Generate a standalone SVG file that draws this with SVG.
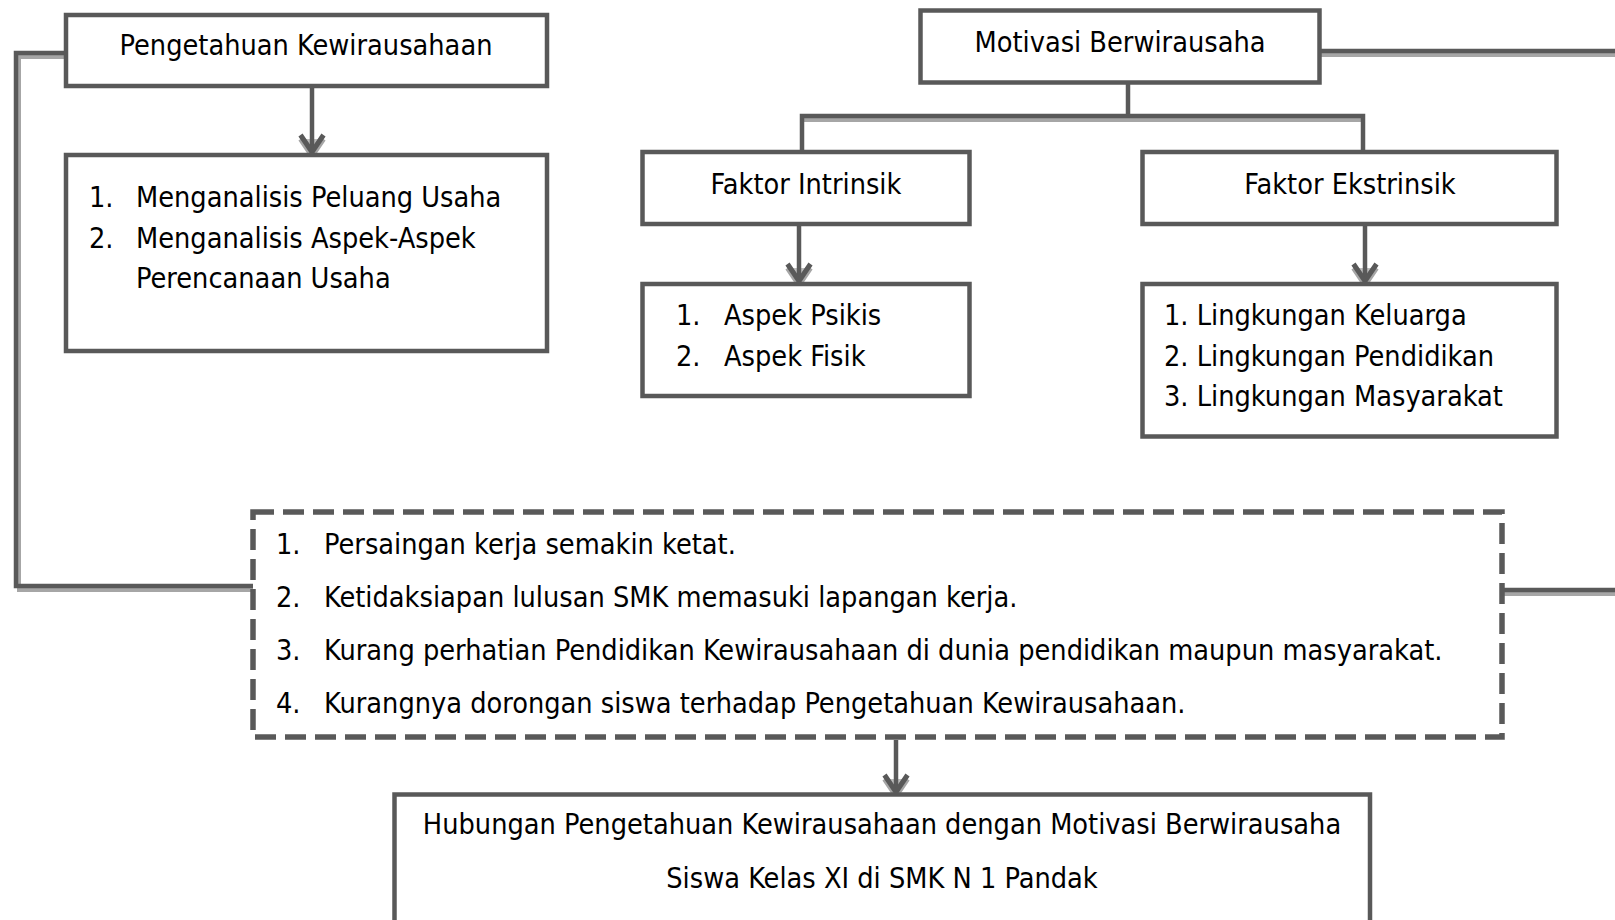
<svg xmlns="http://www.w3.org/2000/svg" width="1615" height="920" viewBox="0 0 1615 920">
<style>
.t{font-family:"DejaVu Sans Condensed","DejaVu Sans",sans-serif;font-stretch:condensed;font-size:28.6px;fill:#000}
.c{text-anchor:middle}
.box{fill:#fff;stroke:#595959;stroke-width:4.5}
.dash{fill:#fff;stroke:#595959;stroke-width:5.5;stroke-dasharray:21 9}
.ln{fill:none;stroke:#595959;stroke-width:4.5}
.sh{fill:none;stroke:#a6a6a6;stroke-width:4}
.ar{fill:none;stroke:#595959;stroke-width:4.5;marker-end:url(#arr)}
.ars{fill:none;stroke:#a6a6a6;stroke-width:4;marker-end:url(#arrs)}
</style>
<defs>
<marker id="arr" viewBox="-24 -16 32 32" refX="0" refY="0" markerWidth="32" markerHeight="32" markerUnits="userSpaceOnUse" orient="auto" overflow="visible">
<path d="M-17,-11.5 L0,0 L-17,11.5" fill="none" stroke="#595959" stroke-width="5"/>
</marker>
<marker id="arrs" viewBox="-24 -16 32 32" refX="0" refY="0" markerWidth="32" markerHeight="32" markerUnits="userSpaceOnUse" orient="auto" overflow="visible">
<path d="M-17,-11.5 L0,0 L-17,11.5" fill="#bdbdbd" stroke="#a6a6a6" stroke-width="5"/>
</marker>
</defs>
<rect width="1615" height="920" fill="#fff"/>

<g id="connectors">
<path class="sh" d="M66,57 H19 V590 H253"/>
<path class="ln" d="M66,53 H16 V586 H253"/>
<path class="sh" d="M1320,55 H1620"/>
<path class="ln" d="M1320,51 H1620"/>
<path class="sh" d="M1502,594 H1620"/>
<path class="ln" d="M1502,590 H1620"/>
<path class="ln" d="M1128,83 V116"/>
<path class="sh" d="M802,120 H1363"/>
<path class="ln" d="M802,152 V116 H1363 V152"/>
<path class="ars" d="M312,88 V156"/>
<path class="ar" d="M312,88 V152"/>
<path class="ars" d="M799,226 V285"/>
<path class="ar" d="M799,226 V281"/>
<path class="ars" d="M1365,226 V285"/>
<path class="ar" d="M1365,226 V281"/>
<path class="ars" d="M896,740 V796"/>
<path class="ar" d="M896,740 V792"/>
</g>

<g id="pengetahuan">
<rect class="box" x="66" y="15" width="481" height="71"/>
<text class="t c" x="306" y="55">Pengetahuan Kewirausahaan</text>
</g>

<g id="pengetahuan-list">
<rect class="box" x="66" y="155" width="481" height="196"/>
<text class="t" x="89" y="207">1.</text>
<text class="t" x="136" y="207">Menganalisis Peluang Usaha</text>
<text class="t" x="89" y="248">2.</text>
<text class="t" x="136" y="248">Menganalisis Aspek-Aspek</text>
<text class="t" x="136" y="288">Perencanaan Usaha</text>
</g>

<g id="motivasi">
<rect class="box" x="920.5" y="10.5" width="399" height="72"/>
<text class="t c" x="1120" y="52">Motivasi Berwirausaha</text>
</g>

<g id="intrinsik">
<rect class="box" x="642.5" y="152" width="327" height="72"/>
<text class="t c" x="806" y="194">Faktor Intrinsik</text>
</g>

<g id="ekstrinsik">
<rect class="box" x="1142.5" y="152" width="414" height="72"/>
<text class="t c" x="1350" y="194">Faktor Ekstrinsik</text>
</g>

<g id="intrinsik-list">
<rect class="box" x="642.5" y="284" width="327" height="112"/>
<text class="t" x="676" y="325">1.</text>
<text class="t" x="724" y="325">Aspek Psikis</text>
<text class="t" x="676" y="366">2.</text>
<text class="t" x="724" y="366">Aspek Fisik</text>
</g>

<g id="ekstrinsik-list">
<rect class="box" x="1142.5" y="284" width="414" height="152.5"/>
<text class="t" x="1164" y="325">1. Lingkungan Keluarga</text>
<text class="t" x="1164" y="366">2. Lingkungan Pendidikan</text>
<text class="t" x="1164" y="406">3. Lingkungan Masyarakat</text>
</g>

<g id="masalah">
<rect class="dash" x="253" y="512" width="1249" height="225"/>
<text class="t" x="276" y="554">1.</text>
<text class="t" x="324" y="554">Persaingan kerja semakin ketat.</text>
<text class="t" x="276" y="607">2.</text>
<text class="t" x="324" y="607">Ketidaksiapan lulusan SMK memasuki lapangan kerja.</text>
<text class="t" x="276" y="660">3.</text>
<text class="t" x="324" y="660">Kurang perhatian Pendidikan Kewirausahaan di dunia pendidikan maupun masyarakat.</text>
<text class="t" x="276" y="713">4.</text>
<text class="t" x="324" y="713">Kurangnya dorongan siswa terhadap Pengetahuan Kewirausahaan.</text>
</g>

<g id="hubungan">
<rect class="box" x="394.5" y="794.5" width="975.5" height="180"/>
<text class="t c" x="882" y="834">Hubungan Pengetahuan Kewirausahaan dengan Motivasi Berwirausaha</text>
<text class="t c" x="882" y="888">Siswa Kelas XI di SMK N 1 Pandak</text>
</g>
</svg>
